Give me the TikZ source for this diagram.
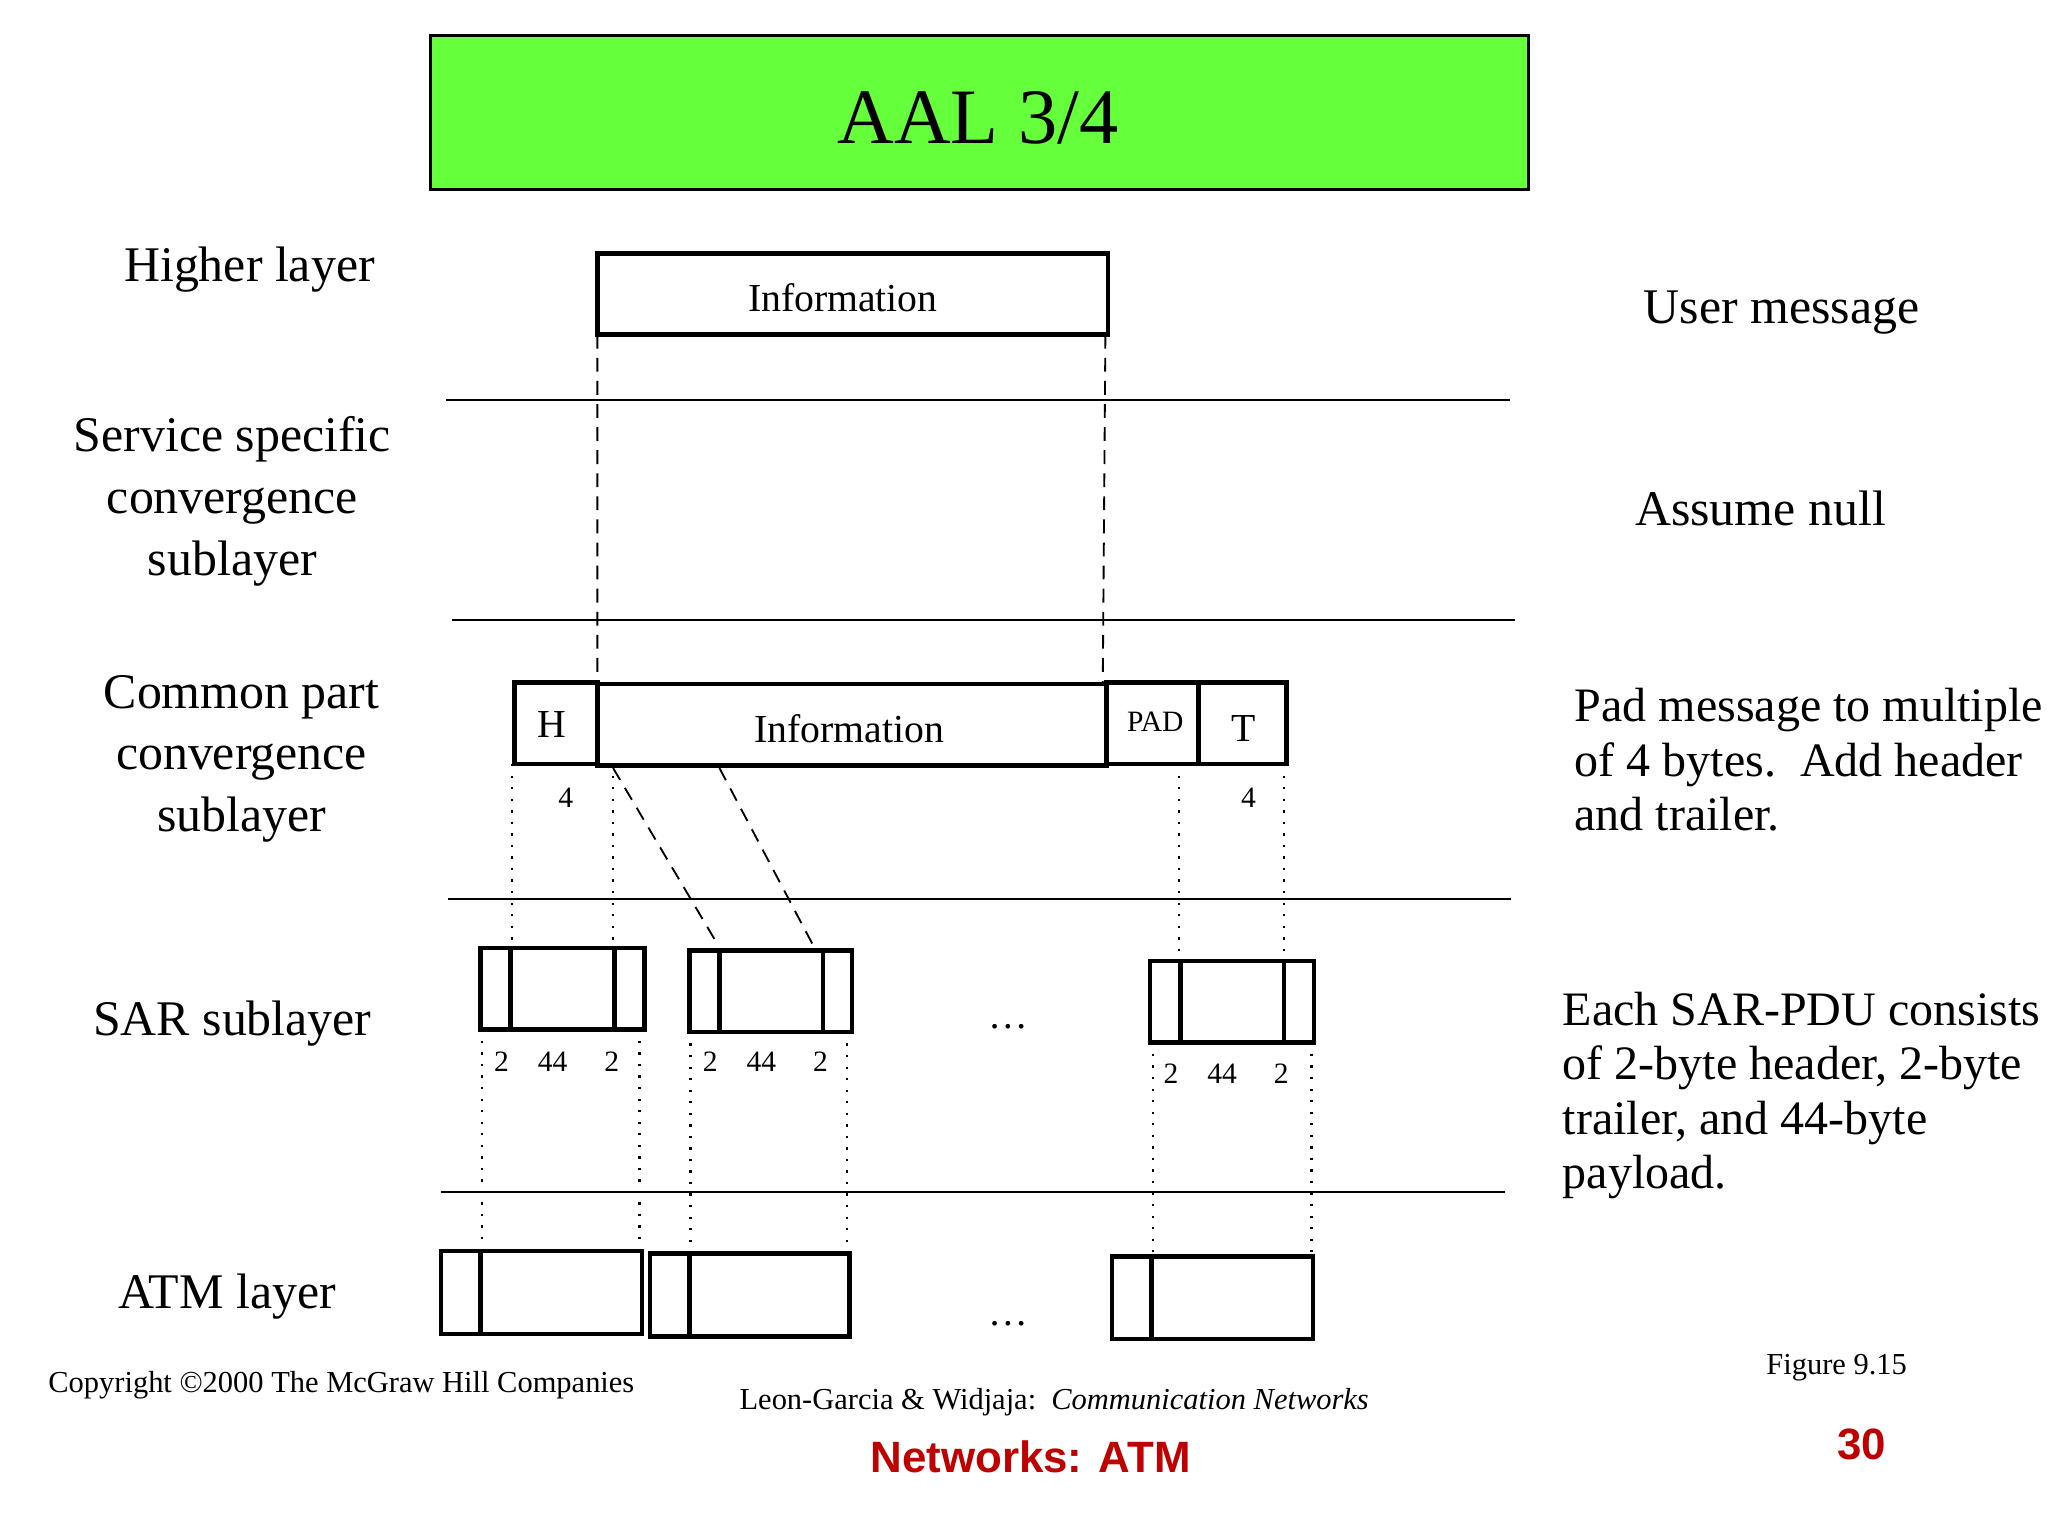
\documentclass[tikz,border=0pt]{standalone}
\usepackage{fontspec}
\setmainfont{Liberation Serif}
\newfontfamily\nsans{Liberation Sans}
\begin{document}
\begin{tikzpicture}[x=0.01cm,y=-0.01cm,
  bx/.style={draw,line width=1pt},
  sep/.style={line width=0.4pt},
  dsh/.style={dash pattern=on 3pt off 2pt,line width=0.4pt},
  dot/.style={dotted,line width=0.5pt},
  big/.style={font=\fontsize{10.8}{13.4}\selectfont,align=center},
  rt/.style={font=\fontsize{10.4}{11.8}\selectfont,align=left,anchor=north west},
  inf/.style={font=\fontsize{8.6}{10}\selectfont},
  num/.style={font=\fontsize{6.4}{8}\selectfont}]
\useasboundingbox (0,0) rectangle (1560,1170);
\node[draw,line width=0.6pt,fill={rgb,255:red,102;green,255;blue,60},minimum width=836*0.01cm,minimum height=117*0.01cm,anchor=north west,inner sep=0] (title) at (327,26) {};
\node[font=\fontsize{17}{20}\selectfont] (tt) at (745,90) {AAL 3/4};
% left labels
\node[big] (l1) at (190,205) {Higher layer};
\node[big] (l2) at (177,382) {Service specific\\convergence\\sublayer};
\node[big] (l3) at (184,578) {Common part\\convergence\\sublayer};
\node[big] (l4) at (177,780) {SAR sublayer};
\node[big] (l5) at (173,988) {ATM layer};
% right labels
\node[big] (r1) at (1357,238) {User message};
\node[big] (r2) at (1341,387) {Assume null};
\node[rt] (r3) at (1187,512) {Pad message to multiple\\of 4 bytes.\ \ Add header\\and trailer.};
\node[rt] (r4) at (1178,743) {Each SAR-PDU consists\\of 2-byte header, 2-byte\\trailer, and 44-byte\\payload.};
% separators
\coordinate (s1a) at (340,305); \coordinate (s1b) at (1150,305);
\coordinate (s2a) at (344,472); \coordinate (s2b) at (1154,472);
\coordinate (s3a) at (341,685); \coordinate (s3b) at (1151,685);
\coordinate (s4a) at (336,908); \coordinate (s4b) at (1146,908);
\draw[sep] (s1a)--(s1b) (s2a)--(s2b) (s3a)--(s3b) (s4a)--(s4b);
% user info
\draw[bx] (455,193) rectangle (844,255);
\node[inf] (ui) at (642,227) {Information};
\coordinate (d1a) at (455,255); \coordinate (d1b) at (455,521);
\coordinate (d2a) at (842,255); \coordinate (d2b) at (840,521);
\draw[dsh] (d1a)--(d1b) (d2a)--(d2b);
% CPCS
\draw[bx] (392,520) rectangle (455,582);
\draw[bx] (455,521) rectangle (843,583);
\draw[bx] (843,520) rectangle (913,582);
\draw[bx] (913,520) rectangle (980,582);
\node[inf] (h) at (420,552) {H};
\node[inf] (ci) at (647,555) {Information};
\node[num] (pad) at (880,550) {PAD};
\node[inf] (t) at (947,555) {T};
\node[num] (n4a) at (431,608) {4};
\node[num] (n4b) at (951,608) {4};
% links CPCS -> SAR
\draw[dot] (390,582)--(390,722) (467,582)--(467,722) (898,582)--(898,732) (978,582)--(978,732);
\draw[dsh] (467,585)--(547,720) (548,585)--(622,725);
% SAR boxes
\draw[bx] (366,722) rectangle (491,784); \draw[bx] (389,722)--(389,784) (468,722)--(468,784);
\draw[bx] (525,724) rectangle (649,786); \draw[bx] (548,724)--(548,786) (627,724)--(627,786);
\draw[bx] (876,732) rectangle (1001,794); \draw[bx] (899,732)--(899,794) (978,732)--(978,794);
\foreach \x/\y in {0/809,159/809,510/818}{
  \node[num] at (382+\x,\y) {2};
  \node[num] at (421+\x,\y) {44};
  \node[num] at (466+\x,\y) {2};}
\node[inf] (e1) at (768,782) {\dots};
\node[inf] (e2) at (768,1008) {\dots};
% SAR -> ATM
\draw[dot] (367,784)--(367,953) (487,784)--(487,953) (526,786)--(526,955) (645,786)--(645,955) (878,794)--(878,957) (999,794)--(999,957);
% ATM
\draw[bx] (336,953) rectangle (489,1016); \draw[bx] (366,953)--(366,1016);
\draw[bx] (495,955) rectangle (647,1018); \draw[bx] (525,955)--(525,1018);
\draw[bx] (847,957) rectangle (1000,1020); \draw[bx] (877,957)--(877,1020);
% footer
\node[num,font=\fontsize{6.6}{8}\selectfont] (cp) at (260,1055) {Copyright ©2000 The McGraw Hill Companies};
\node[num,font=\fontsize{6.6}{8}\selectfont] (lg) at (803,1068) {Leon-Garcia \& Widjaja:\ \ \textit{Communication Networks}};
\node[num,font=\fontsize{6.6}{8}\selectfont] (fig) at (1399,1042) {Figure 9.15};
\node[font=\nsans\bfseries\fontsize{9.5}{11}\selectfont,text={rgb,255:red,190;green,0;blue,0}] (nw) at (785,1110) {Networks: ATM};
\node[font=\nsans\bfseries\fontsize{9.5}{11}\selectfont,text={rgb,255:red,190;green,0;blue,0}] (pg) at (1418,1100) {30};
\end{tikzpicture}
\end{document}
